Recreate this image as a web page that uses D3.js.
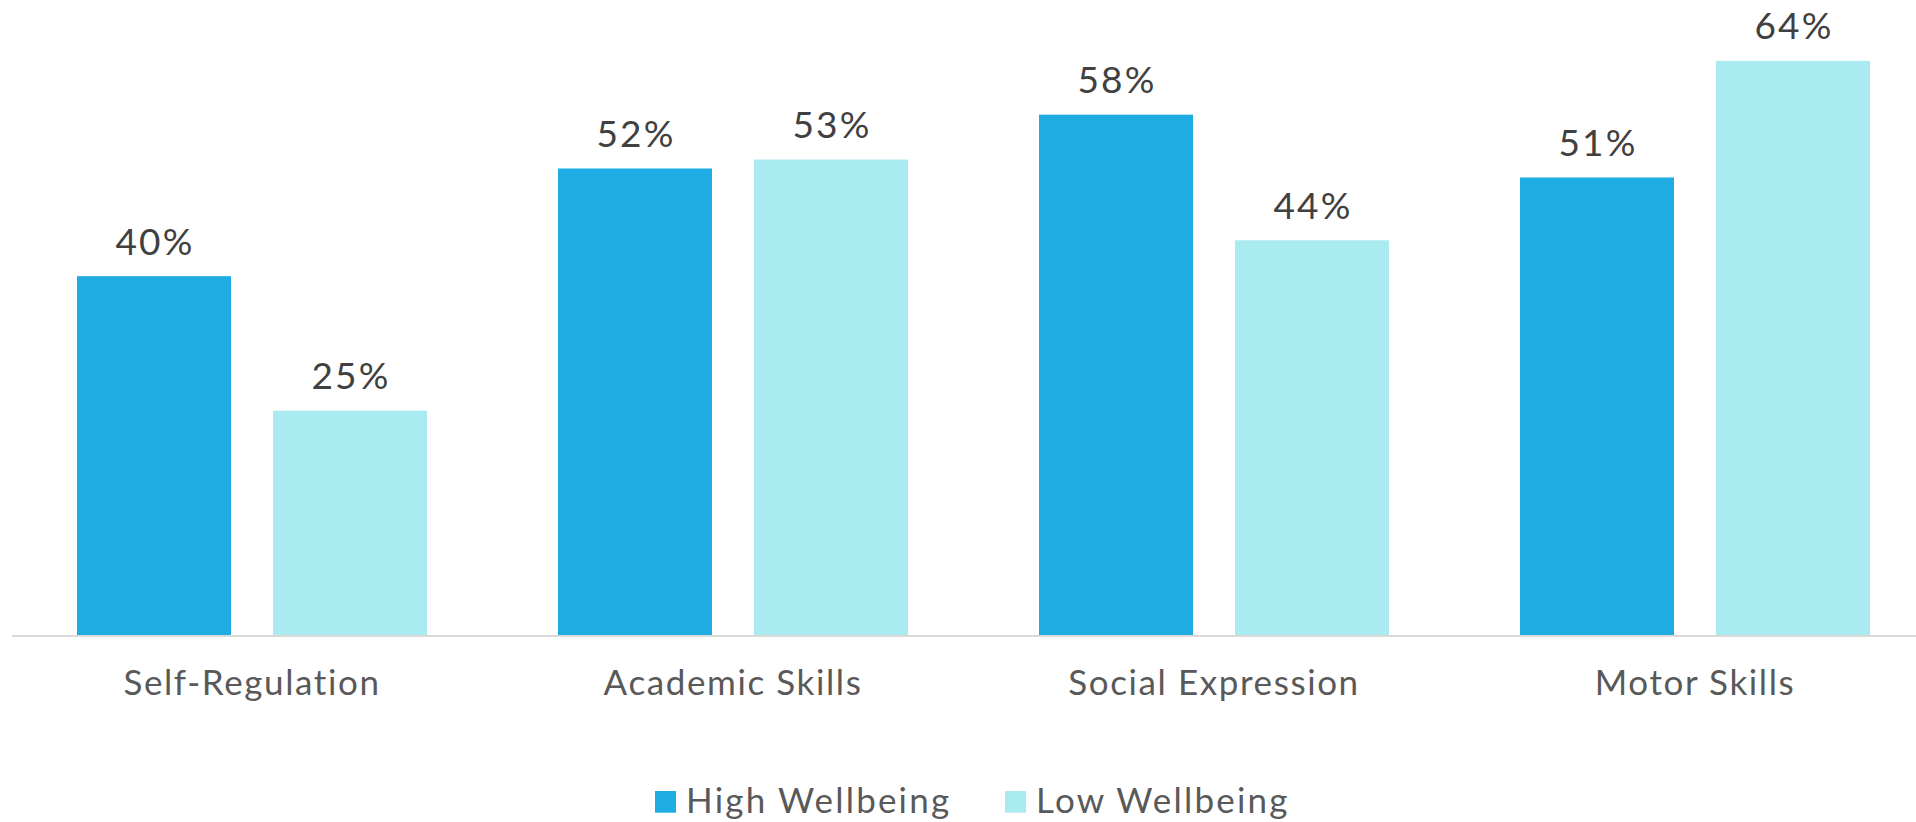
<!DOCTYPE html>
<html>
<head>
<meta charset="utf-8">
<script src="https://cdn.jsdelivr.net/npm/d3@7"></script>
<style>
  html, body { margin: 0; padding: 0; background: #ffffff; }
  svg { display: block; font-family: "Lato", "Noto Sans", sans-serif; font-variant-ligatures: none; }
</style>
</head>
<body>
<svg id="chart" width="1916" height="822"></svg>
<script>
// Share of children rated as strong in each domain, by wellbeing group
const categories = ["Self-Regulation", "Academic Skills", "Social Expression", "Motor Skills"];
const seriesNames = ["High Wellbeing", "Low Wellbeing"];
const highWellbeing = [0.40, 0.52, 0.58, 0.51];
const lowWellbeing = [0.25, 0.53, 0.44, 0.64];
const seriesColors = ["#1EACE2", "#A9EBF0"];

const W = 1916, H = 822;
const baseY = 635;
const svg = d3.select("#chart");

const rows = categories.map((c, i) => ({
  category: c,
  values: [
    { series: seriesNames[0], value: highWellbeing[i] },
    { series: seriesNames[1], value: lowWellbeing[i] }
  ]
}));

const x0 = d3.scaleBand().domain(categories).range([11.5, 1935.5]).padding(0);
const x1 = d3.scaleBand().domain(seriesNames)
  .range([65.5, x0.bandwidth() - 65.5])
  .paddingInner(42 / 196).paddingOuter(0);
const y = d3.scaleLinear().domain([0, 0.7]).range([baseY, 7]);
const color = d3.scaleOrdinal().domain(seriesNames).range(seriesColors);
const fmt = d3.format(".0%");

// bars
const groups = svg.append("g").selectAll("g")
  .data(rows).join("g")
  .attr("transform", d => `translate(${x0(d.category)},0)`);

groups.selectAll("rect")
  .data(d => d.values).join("rect")
  .attr("x", d => x1(d.series))
  .attr("y", d => y(d.value))
  .attr("width", x1.bandwidth())
  .attr("height", d => y(0) - y(d.value))
  .attr("fill", d => color(d.series));

// value labels
groups.selectAll("text.value")
  .data(d => d.values).join("text")
  .attr("class", "value")
  .attr("x", d => x1(d.series) + x1.bandwidth() / 2 + 1)
  .attr("y", d => y(d.value) - 21.5)
  .attr("text-anchor", "middle")
  .attr("font-size", 37)
  .attr("letter-spacing", 2.2)
  .attr("fill", "#404040")
  .text(d => fmt(d.value));

// category axis
const axis = svg.append("g")
  .attr("transform", `translate(0,${baseY})`)
  .call(d3.axisBottom(x0).tickSize(0).tickPadding(0));
axis.select(".domain").remove();
axis.append("line")
  .attr("x1", 12).attr("x2", W)
  .attr("y1", 1).attr("y2", 1)
  .attr("stroke", "#D9D9D9").attr("stroke-width", 2);
axis.selectAll(".tick text")
  .attr("y", 60)
  .attr("dy", 0)
  .attr("font-size", 35)
  .attr("letter-spacing", 1.6)
  .attr("font-family", "Lato, 'Noto Sans', sans-serif")
  .attr("fill", "#595959");

// legend
const legendItems = [
  { name: seriesNames[0], sx: 655, tx: 686 },
  { name: seriesNames[1], sx: 1005, tx: 1036 }
];
const legend = svg.append("g");
legend.selectAll("rect")
  .data(legendItems).join("rect")
  .attr("x", d => d.sx).attr("y", 791)
  .attr("width", 21).attr("height", 21.7)
  .attr("fill", d => color(d.name));
legend.selectAll("text")
  .data(legendItems).join("text")
  .attr("x", d => d.tx).attr("y", 813)
  .attr("font-size", 35)
  .attr("letter-spacing", 2.2)
  .attr("fill", "#595959")
  .text(d => d.name);
</script>
</body>
</html>
